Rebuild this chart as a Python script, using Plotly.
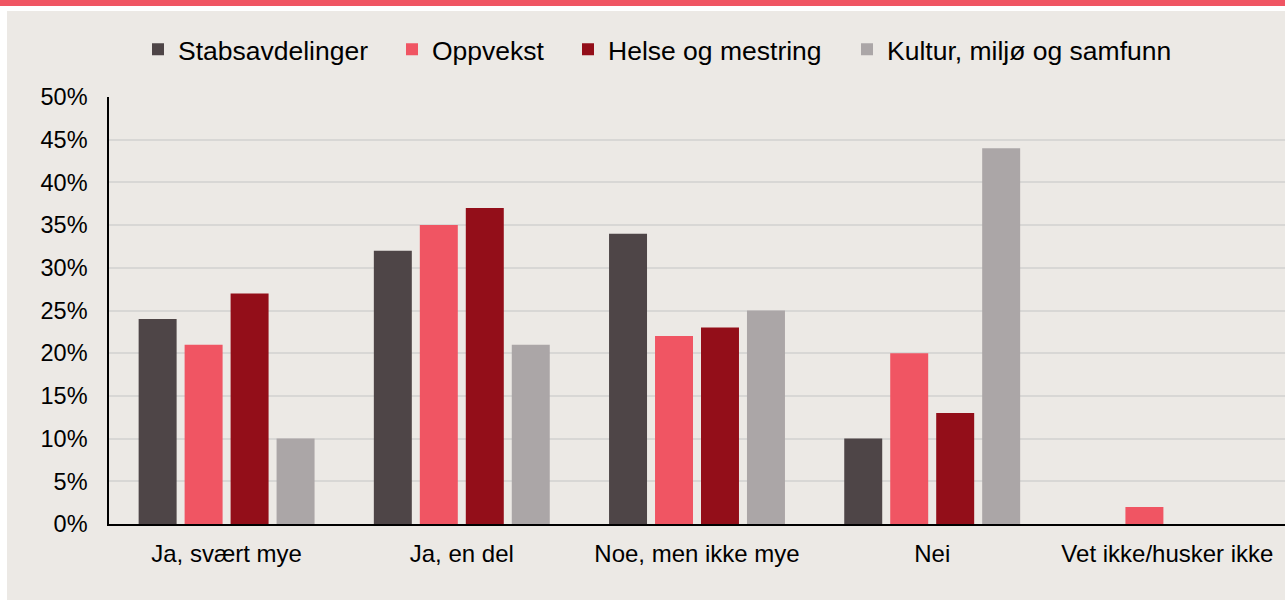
import plotly.graph_objects as go

categories = ["Ja, svært mye", "Ja, en del", "Noe, men ikke mye", "Nei", "Vet ikke/husker ikke"]
series_names = ["Stabsavdelinger", "Oppvekst", "Helse og mestring", "Kultur, miljø og samfunn"]
stabs = [0.24, 0.32, 0.34, 0.10, 0.0]
oppvekst = [0.21, 0.35, 0.22, 0.20, 0.02]
helse = [0.27, 0.37, 0.23, 0.13, 0.0]
kultur = [0.10, 0.21, 0.25, 0.44, 0.0]
colors = ["#4E4547", "#F05563", "#930E19", "#ABA6A7"]
legend_widths = [209, 131, 234, 300]

W, H = 1285, 601
L, R, T, B = 109, 0, 97, 77
pw, ph = W - L - R, H - T - B

def px_x(p):
    return (p - L) / pw

def px_y(p):
    return (H - B - p) / ph

fig = go.Figure()
for name, vals, c, lw in zip(series_names, [stabs, oppvekst, helse, kultur], colors, legend_widths):
    fig.add_trace(go.Bar(x=categories, y=vals, name=name, legendwidth=lw,
                         marker=dict(color=c, line=dict(width=0))))

font = "Liberation Sans, Arial, sans-serif"
fig.update_layout(
    width=W, height=H,
    margin=dict(l=L, r=R, t=T, b=B, pad=0),
    paper_bgcolor="white",
    plot_bgcolor="rgba(0,0,0,0)",
    barmode="group",
    bargap=0.218,
    bargroupgap=0.174,
    font=dict(family=font, size=24, color="#000000"),
    legend=dict(orientation="h", x=px_x(138), y=px_y(49.5), xanchor="left", yanchor="middle",
                font=dict(size=26.5), bgcolor="rgba(0,0,0,0)", itemwidth=30, traceorder="normal"),
    showlegend=True,
    shapes=[
        dict(type="rect", xref="paper", yref="paper", x0=px_x(7), x1=px_x(W), y0=px_y(600), y1=px_y(11),
             fillcolor="#ECE9E5", line=dict(width=0), layer="below"),
        dict(type="rect", xref="paper", yref="paper", x0=px_x(0), x1=px_x(W), y0=px_y(6), y1=px_y(0),
             fillcolor="#F05563", line=dict(width=0), layer="below"),
    ],
)
fig.update_yaxes(range=[0, 0.5], dtick=0.05, tickformat=".0%", showgrid=True, gridcolor="#D8D7D5",
                 gridwidth=2, showline=True, linecolor="#000000", linewidth=1.5, zeroline=False,
                 ticks="", ticklabelstandoff=15, tickfont=dict(size=23.5))
fig.update_xaxes(showline=True, linecolor="#000000", linewidth=2, ticks="", ticklabelstandoff=7,
                 tickfont=dict(size=24), range=[-0.5, 4.5])

fig.write_html("out.html", config={"displayModeBar": False},
               post_script="document.body.style.margin='0';document.body.style.padding='0';")
